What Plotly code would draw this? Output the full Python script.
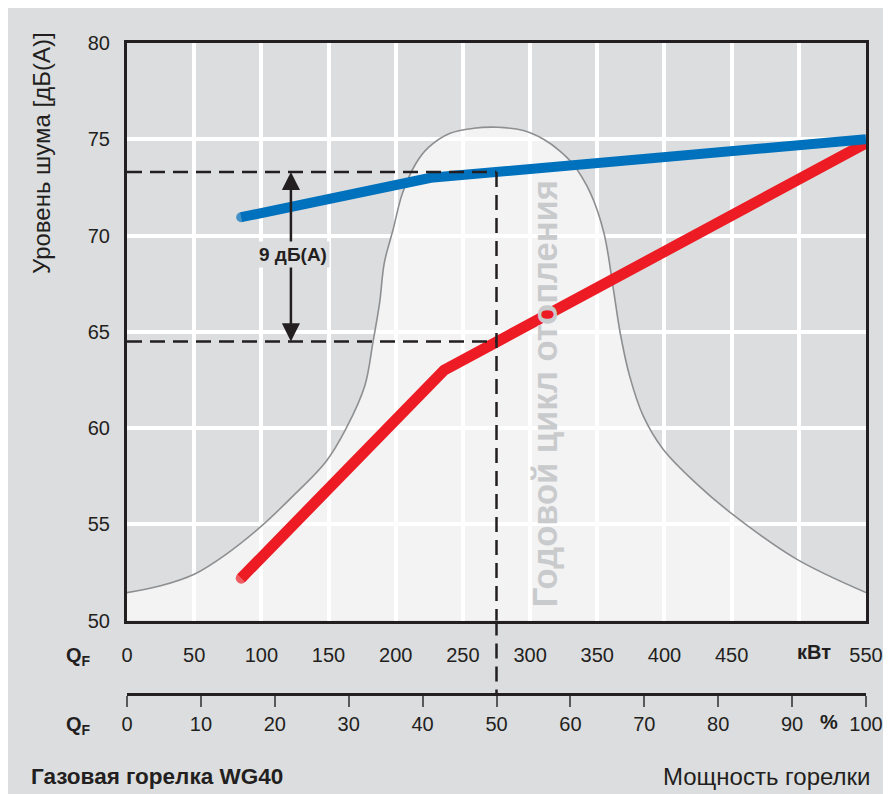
import plotly.graph_objects as go

# ---------------- data ----------------
kw_ticks = [0, 50, 100, 150, 200, 250, 300, 350, 400, 450, 500, 550]
kw_ticktext = ["0", "50", "100", "150", "200", "250", "300", "350", "400", "450", "", "550"]
pct_ticks = [0, 10, 20, 30, 40, 50, 60, 70, 80, 90, 100]
pct_ticktext = ["0", "10", "20", "30", "40", "50", "60", "70", "80", "90", "100"]
db_ticks = [50, 55, 60, 65, 70, 75, 80]

# two-stage (blue) and modulating (red) burner noise level
blue_kw = [85, 226, 550]
blue_db = [70.95, 73.0, 75.0]
red_kw = [85, 236, 550]
red_db = [52.2, 63.0, 74.8]

# annual heating cycle (bell curve)
cycle_kw = [0, 25, 50, 74, 100, 124, 148, 163, 177, 183, 188, 191.5, 198, 205, 215,
            224, 240, 258, 276, 295, 310, 322, 332, 345, 355, 362, 367, 374, 384,
            399, 424, 451, 498, 550]
cycle_db = [51.45, 51.8, 52.4, 53.45, 54.9, 56.5, 58.25, 59.97, 62.2, 64.44, 66.5,
            68.58, 70.3, 72.19, 73.74, 74.55, 75.3, 75.57, 75.62, 75.45, 75.0, 74.4,
            73.7, 72.19, 70.12, 67.2, 64.96, 62.72, 60.66, 58.9, 57.1, 55.5, 53.2,
            51.45]

ref_kw = 275      # 50 % load
ref_hi = 73.3
ref_lo = 64.5
diff_label = "9 дБ(А)"
arrow_kw = 122

# ---------------- layout constants ----------------
OFF = 8                      # page offset of the figure (body margin)
W, H = 891 - OFF, 794 - OFF
ML, MR, MT, MB = 119, 25, 35, 100
PW, PH = W - ML - MR, H - MT - MB
dom0 = 73.5 / PH


def px_x(p):
    """page x pixel -> paper fraction"""
    return (p - OFF - ML) / PW


def px_y(p):
    """page y pixel -> paper fraction"""
    return (MT + PH - (p - OFF)) / PH


DARK = "#231f20"
BG = "#dcdddf"
FONT = "Liberation Sans, Arial, Helvetica, sans-serif"

fig = go.Figure()

fig.add_trace(go.Scatter(
    x=cycle_kw, y=cycle_db, mode="lines",
    line=dict(color="#8e8f91", width=1.6, shape="spline", smoothing=1.0),
    fill="tozeroy", fillcolor="rgba(255,255,255,0.66)",
    hoverinfo="skip", showlegend=False))

fig.add_trace(go.Scatter(
    x=red_kw, y=red_db, mode="lines+markers",
    line=dict(color="#ed1c24", width=11),
    marker=dict(size=[11, 0, 0], color="#ed1c24", line=dict(width=0)),
    hoverinfo="skip", showlegend=False))

fig.add_trace(go.Scatter(
    x=blue_kw, y=blue_db, mode="lines+markers",
    line=dict(color="#0071bc", width=10),
    marker=dict(size=[10, 0, 0], color="#0071bc", line=dict(width=0)),
    hoverinfo="skip", showlegend=False))

dash = "15px,8px"
shapes = [
    dict(type="rect", xref="paper", yref="paper",
         x0=px_x(-10), x1=px_x(900), y0=px_y(810), y1=px_y(9),
         fillcolor=BG, line=dict(width=0), layer="below"),
    dict(type="line", xref="x", yref="y", x0=0, x1=ref_kw, y0=ref_hi, y1=ref_hi,
         line=dict(color=DARK, width=2.5, dash=dash)),
    dict(type="line", xref="x", yref="y", x0=0, x1=ref_kw, y0=ref_lo, y1=ref_lo,
         line=dict(color=DARK, width=2.5, dash=dash)),
    dict(type="line", xref="x", yref="y", x0=ref_kw, x1=ref_kw, y0=ref_hi, y1=50,
         line=dict(color=DARK, width=2.5, dash=dash)),
    dict(type="line", xref="x", yref="paper", x0=ref_kw, x1=ref_kw, y0=dom0, y1=0,
         line=dict(color=DARK, width=2.5, dash=dash)),
]

label_y = (ref_hi + ref_lo) / 2 + 0.1


def txt(x, y, text, size, xanchor="center", yanchor="middle", xref="paper",
        yref="paper", color=DARK, angle=0):
    return dict(x=x, y=y, xref=xref, yref=yref, text=text, showarrow=False,
                xanchor=xanchor, yanchor=yanchor, textangle=angle,
                font=dict(family=FONT, size=size, color=color))


annotations = [
    txt(311, 61.8, "<b>Годовой цикл отопления</b>", 34.5, xref="x", yref="y",
        color="#c9cacc", angle=-90),
    dict(x=arrow_kw, y=ref_hi, ax=arrow_kw, ay=label_y, xref="x", yref="y",
         axref="x", ayref="y", text="", showarrow=True, arrowhead=2,
         arrowsize=1.45, arrowwidth=2.5, arrowcolor=DARK, standoff=0),
    dict(x=arrow_kw, y=ref_lo, ax=arrow_kw, ay=label_y, xref="x", yref="y",
         axref="x", ayref="y", text="", showarrow=True, arrowhead=2,
         arrowsize=1.45, arrowwidth=2.5, arrowcolor=DARK, standoff=0),
    dict(x=arrow_kw + 1.5, y=label_y, xref="x", yref="y", text="<b>" + diff_label + "</b>",
         showarrow=False, bgcolor=BG, borderpad=2, xanchor="center", yanchor="middle",
         font=dict(family=FONT, size=19, color=DARK)),
    # unit labels
    txt(511, px_y(652), "<b>кВт</b>", 20, xref="x"),
    txt(95, px_y(722), "<b>%</b>", 20, xref="x2"),
    # Q_F labels
    txt(px_x(64), px_y(656), "<b>Q</b><sub><b>F</b></sub>", 20, xanchor="left"),
    txt(px_x(64), px_y(725), "<b>Q</b><sub><b>F</b></sub>", 20, xanchor="left"),
    # axis title
    txt(px_x(41), px_y(153), "Уровень шума [дБ(А)]", 24, angle=-90),
    # footer
    txt(px_x(29), px_y(776), "<b>Газовая горелка WG40</b>", 22.5, xanchor="left"),
    txt(px_x(873), px_y(776), "Мощность горелки", 24, xanchor="right"),
]

fig.update_layout(
    width=W, height=H,
    margin=dict(l=ML, r=MR, t=MT, b=MB, pad=0, autoexpand=False),
    paper_bgcolor=BG, plot_bgcolor=BG,
    font=dict(family=FONT, color=DARK, size=20),
    showlegend=False,
    shapes=shapes, annotations=annotations,
    xaxis=dict(range=[0, 550], domain=[0, 1], anchor="y",
               tickmode="array", tickvals=kw_ticks, ticktext=kw_ticktext,
               ticks="", showgrid=True, gridcolor="white", gridwidth=4,
               showline=True, mirror=True, linecolor=DARK, linewidth=3,
               zeroline=False, tickfont=dict(size=20, color=DARK),
               ticklabelstandoff=14, fixedrange=True, automargin=False),
    yaxis=dict(range=[50, 80], domain=[dom0, 1], anchor="x",
               tickmode="array", tickvals=db_ticks,
               ticks="", showgrid=True, gridcolor="white", gridwidth=4,
               showline=True, mirror=True, linecolor=DARK, linewidth=3,
               zeroline=False, tickfont=dict(size=20, color=DARK),
               ticklabelstandoff=10, fixedrange=True, automargin=False),
    xaxis2=dict(range=[0, 100], overlaying="x", anchor="free", position=0,
                side="bottom", tickmode="array", tickvals=pct_ticks,
                ticktext=pct_ticktext, ticks="outside", ticklen=11,
                tickwidth=1.5, tickcolor="#58595b", showline=True,
                linecolor=DARK, linewidth=3, showgrid=False, zeroline=False,
                tickfont=dict(size=20, color=DARK), fixedrange=True,
                automargin=False),
)

fig.write_html("out.html")
